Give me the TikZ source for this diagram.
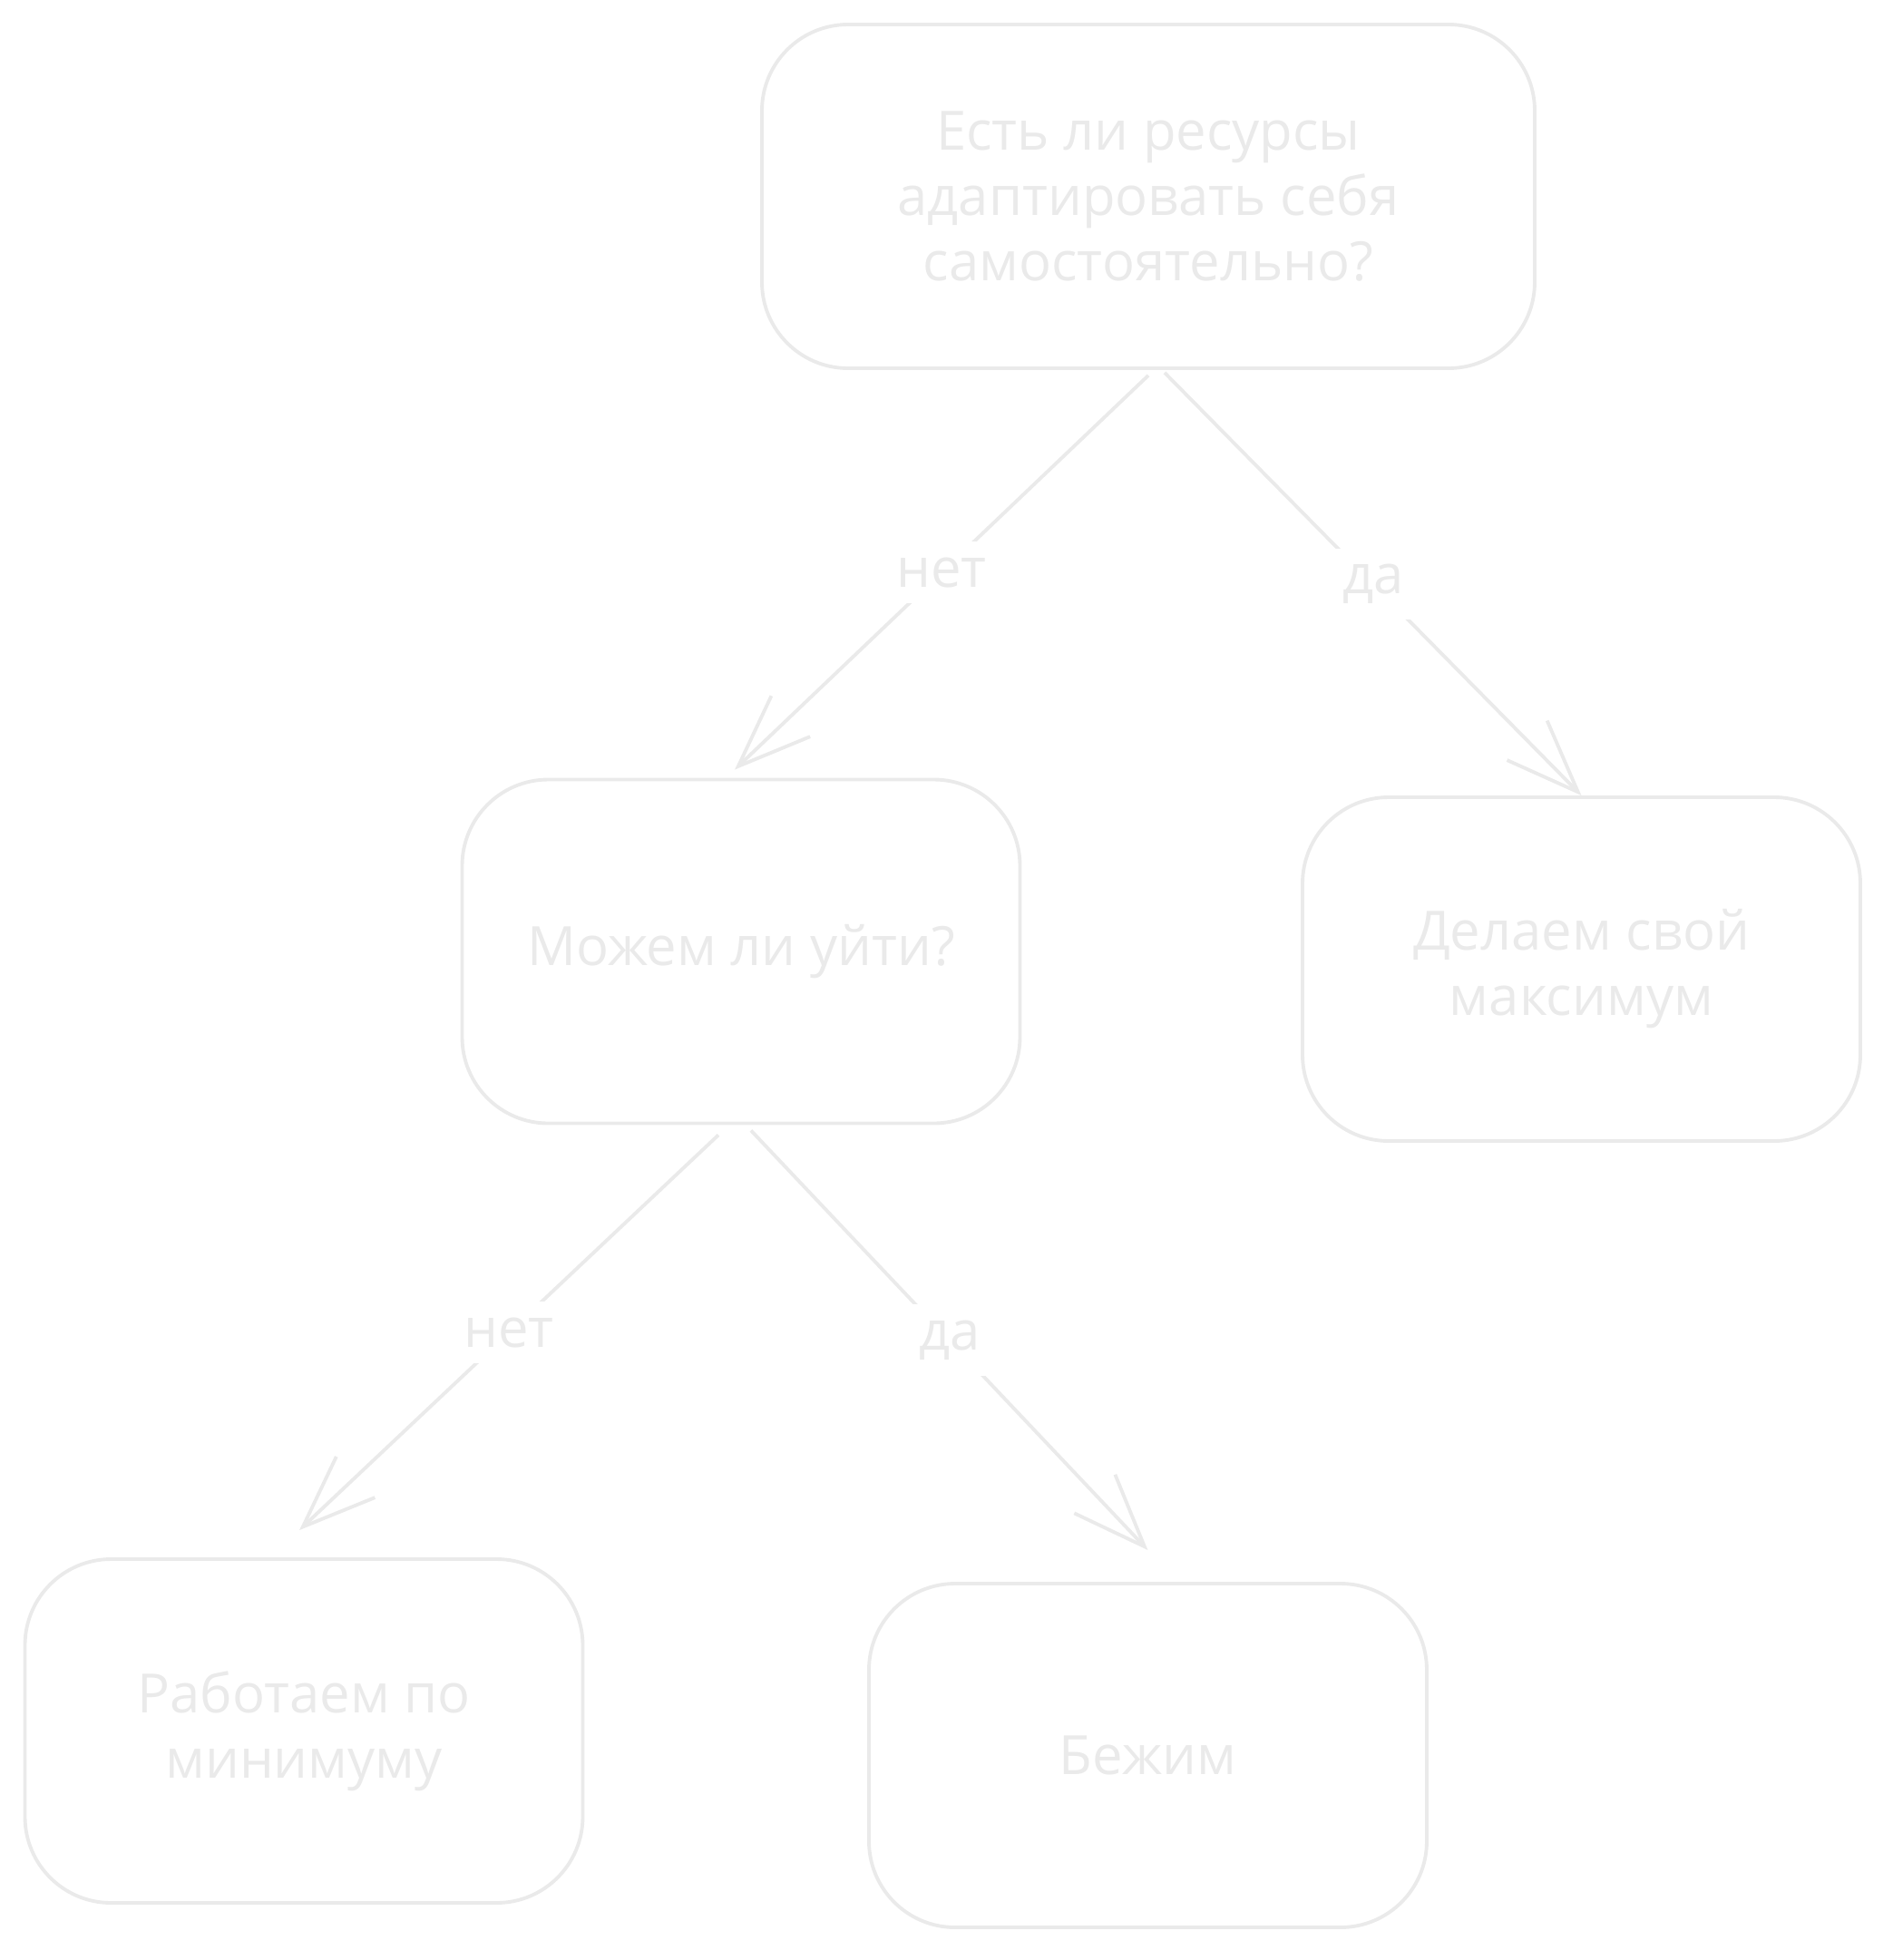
\documentclass[tikz,border=0pt]{standalone}
\usepackage{fontspec}
\setmainfont{Open Sans}
\usetikzlibrary{arrows.meta}
\definecolor{sketch}{RGB}{234,234,234}
\begin{document}
\begin{tikzpicture}[
    box/.style={draw=sketch, line width=1.1pt, rounded corners=0.95cm,
      minimum width=6.15cm, minimum height=3.79cm, align=center,
      text=sketch, font=\fontsize{17}{20.5}\selectfont},
    link/.style={draw=sketch, line width=1.1pt,
      -{Straight Barb[length=0.8cm, width=0.62cm]}},
    lab/.style={fill=white, text=sketch, inner sep=5pt,
      font=\fontsize{17}{20.5}\selectfont}
  ]
  \useasboundingbox (0,0) rectangle (20.87,-21.61);
  \node[box, minimum width=8.52cm] (0) at (12.66, -2.165) {Есть ли ресурсы\\адаптировать себя\\самостоятельно?};
  \node[box] (1) at (8.17, -10.49) {Можем ли уйти?};
  \node[box] (2) at (17.435, -10.685) {Делаем свой\\максимум};
  \node[box] (3) at (3.35, -19.085) {Работаем по\\минимуму};
  \node[box] (4) at (12.655, -19.355) {Бежим};
  \draw[link] ([yshift=-0.06cm]0.south) to node[midway, lab] {нет} ([xshift=-0.07cm, yshift=0.09cm]1.north);
  \draw[link] ([xshift=0.18cm, yshift=-0.03cm]0.south) to node[midway, lab] {да} (2.north);
  \draw[link] ([xshift=-0.25cm, yshift=-0.11cm]1.south) to node[midway, lab] {нет} ([xshift=-0.05cm, yshift=0.3cm]3.north);
  \draw[link] ([xshift=0.11cm, yshift=-0.06cm]1.south) to node[midway, lab] {да} ([yshift=0.35cm]4.north);
\end{tikzpicture}
\end{document}
